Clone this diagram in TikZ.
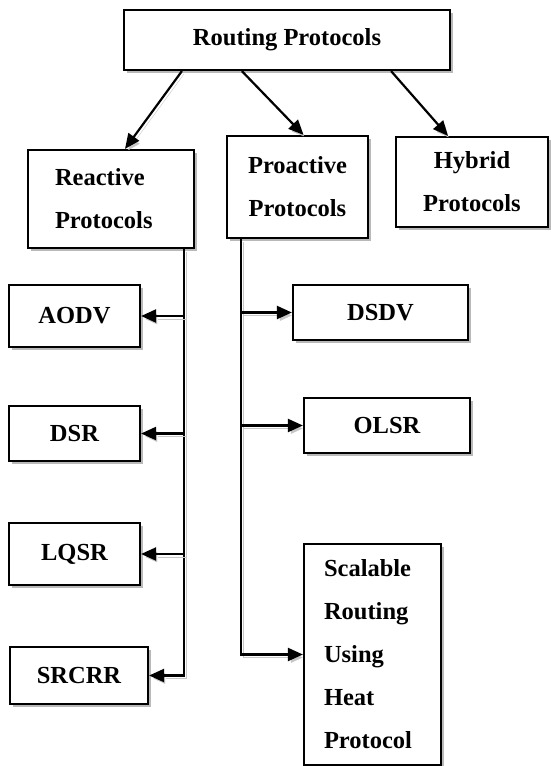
\documentclass[tikz,border=0pt]{standalone}
\usepackage{fontspec}
\setmainfont{Liberation Serif}
\usetikzlibrary{arrows.meta, shadows}
\tikzset{
  box/.style={
    rectangle, draw=black, fill=white, line width=2.2pt,
    inner sep=0pt, align=center,
    font=\fontsize{24.5}{43}\selectfont\bfseries,
    drop shadow={shadow xshift=3pt, shadow yshift=-3pt, fill=gray!55, opacity=1}
  },
  arrow/.style={
    -{Triangle[length=15pt,width=13pt]}, line width=2.2pt,
    preaction={draw=gray!45, transform canvas={shift={(2pt,-3pt)}}}
  },
}
\begin{document}
\begin{tikzpicture}[x=1pt, y=-1pt]
  \useasboundingbox (0,0) rectangle (550,766);

  % root and the three families
  \node[box, minimum width=326pt, minimum height=60pt] (routing) at (287,40) {Routing Protocols};
  \node[box, minimum width=166pt, minimum height=98pt, text width=112pt, align=left] (reactive) at (111,199) {Reactive\\Protocols};
  \node[box, minimum width=141pt, minimum height=102pt] (proactive) at (297.5,187) {Proactive\\Protocols};
  \node[box, minimum width=152pt, minimum height=90pt] (hybrid) at (472,182) {Hybrid\\Protocols};

  % reactive protocols
  \node[box, minimum width=131pt, minimum height=62pt] (aodv) at (74.5,316) {AODV};
  \node[box, minimum width=131pt, minimum height=55pt] (dsr) at (74.5,433.5) {DSR};
  \node[box, minimum width=131pt, minimum height=62pt] (lqsr) at (74.5,554) {LQSR};
  \node[box, minimum width=138pt, minimum height=57pt] (srcrr) at (79,675.5) {SRCRR};

  % proactive protocols
  \node[box, minimum width=175pt, minimum height=55pt] (dsdv) at (380.5,312.5) {DSDV};
  \node[box, minimum width=166pt, minimum height=55pt] (olsr) at (387,425.5) {OLSR};
  \node[box, minimum width=137pt, minimum height=221pt, text width=97pt, align=left] (scalable) at (372.5,654.5)
    {Scalable\\Routing\\Using\\Heat\\Protocol};

  \draw[arrow] ([xshift=59pt]routing.south west) -- ([xshift=14pt]reactive.north);
  \draw[arrow] ([xshift=119pt]routing.south west) -- ([xshift=6pt]proactive.north);
  \draw[arrow] ([xshift=-60pt]routing.south east) -- ([xshift=-24pt]hybrid.north);

  \coordinate (rtrunk) at ([xshift=-11pt]reactive.south east);
  \coordinate (ptrunk) at ([xshift=15pt]proactive.south west);

  \draw[arrow] (rtrunk) |- (srcrr.east);
  \foreach \n in {aodv, dsr, lqsr}
    \draw[arrow] (rtrunk |- \n.east) -- (\n.east);

  \draw[arrow] (ptrunk) |- (scalable.west);
  \foreach \n in {dsdv, olsr}
    \draw[arrow] (ptrunk |- \n.west) -- (\n.west);
\end{tikzpicture}
\end{document}
